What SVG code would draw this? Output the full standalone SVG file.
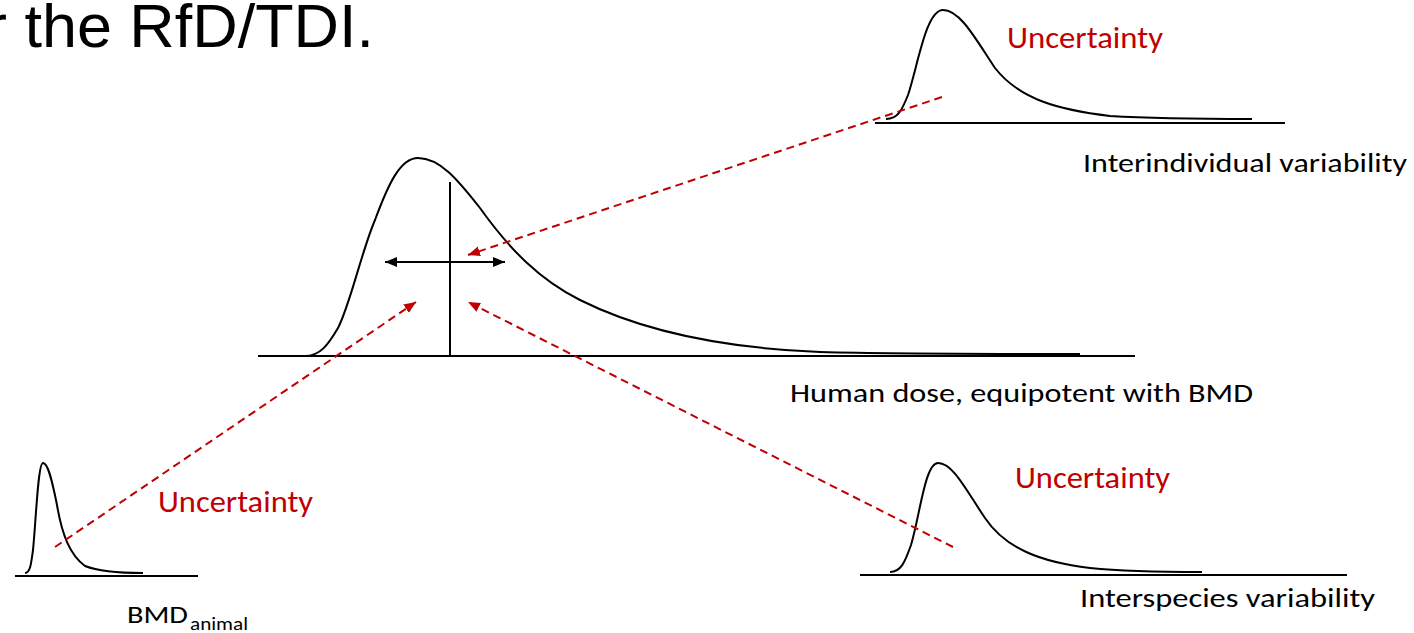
<svg xmlns="http://www.w3.org/2000/svg" width="1414" height="633" viewBox="0 0 1414 633">
  <style>
    .axis { stroke: #000; stroke-width: 2; fill: none; }
    .curve { stroke: #000; stroke-width: 2; fill: none; stroke-linejoin: round; }
    .dash { stroke: #c00000; stroke-width: 2; fill: none; stroke-dasharray: 8 5; }
    .lbl { font-family: Carlito, Lato, "Open Sans", sans-serif; fill: #000; }
    .unc { font-family: Carlito, Lato, "Open Sans", sans-serif; fill: #c00000; font-size: 30px; }
    .title { font-family: "Liberation Sans", Arial, sans-serif; font-size: 61px; fill: #000; }
  </style>
  <defs>
    <marker id="redhead" markerUnits="userSpaceOnUse" markerWidth="14" markerHeight="12" refX="12" refY="5" orient="auto">
      <path d="M0,0 L12,5 L0,10 Z" fill="#c00000"/>
    </marker>
    <marker id="blackhead" markerUnits="userSpaceOnUse" markerWidth="14" markerHeight="12" refX="12" refY="5" orient="auto-start-reverse">
      <path d="M0,0 L12,5 L0,10 Z" fill="#000"/>
    </marker>
  </defs>

  <text class="title" x="-14" y="47" textLength="388" lengthAdjust="spacingAndGlyphs">r the RfD/TDI.</text>

  <g id="main-distribution">
    <line class="axis" x1="258" y1="356" x2="1135" y2="356"/>
    <path class="curve" d="M 305 356 C 320 356, 328 345, 338 328 C 350 305, 362 250, 375 220 C 388 185, 400 158, 418 158 C 440 158, 458 180, 480 208 C 510 250, 540 280, 580 300 C 640 330, 720 348, 820 352 C 900 354, 1000 354, 1080 354"/>
    <line class="axis" x1="450" y1="182" x2="450" y2="356"/>
    <line class="axis" x1="385" y1="262" x2="505" y2="262" marker-start="url(#blackhead)" marker-end="url(#blackhead)"/>
    <text class="lbl" x="790" y="402" font-size="27" textLength="463" lengthAdjust="spacingAndGlyphs">Human dose, equipotent with BMD</text>
  </g>

  <g id="interindividual">
    <line class="axis" x1="875" y1="123" x2="1285" y2="123"/>
    <path class="curve" d="M 886 119 C 898 119, 902 110, 908 95 C 918 65, 926 10, 943 10 C 960 10, 975 38, 995 68 C 1020 100, 1060 110, 1110 116 C 1160 119, 1210 119, 1252 119"/>
    <text class="unc" x="1007" y="48" textLength="156" lengthAdjust="spacingAndGlyphs">Uncertainty</text>
    <text class="lbl" x="1083" y="172" font-size="27" textLength="324" lengthAdjust="spacingAndGlyphs">Interindividual variability</text>
  </g>

  <g id="interspecies">
    <line class="axis" x1="860" y1="575" x2="1347" y2="575"/>
    <path class="curve" d="M 890 572 C 901 572, 905 562, 911 545 C 920 515, 925 463, 938 463 C 953 463, 966 490, 985 518 C 1005 548, 1040 562, 1090 568 C 1130 572, 1170 572, 1202 572"/>
    <text class="unc" x="1015" y="488" textLength="155" lengthAdjust="spacingAndGlyphs">Uncertainty</text>
    <text class="lbl" x="1080" y="607" font-size="27" textLength="295" lengthAdjust="spacingAndGlyphs">Interspecies variability</text>
  </g>

  <g id="bmd-animal">
    <line class="axis" x1="15" y1="576" x2="198" y2="576"/>
    <path class="curve" d="M 25 573 C 30 573, 31 565, 33 550 C 36 520, 38 463, 43 463 C 48 463, 52 480, 57 505 C 62 535, 70 555, 85 566 C 100 572, 125 573, 143 573"/>
    <text class="unc" x="158" y="512" textLength="155" lengthAdjust="spacingAndGlyphs">Uncertainty</text>
    <text class="lbl" x="127" y="623" font-size="24" textLength="61" lengthAdjust="spacingAndGlyphs">BMD</text>
    <text class="lbl" x="190" y="630" font-size="18" textLength="58" lengthAdjust="spacingAndGlyphs">animal</text>
  </g>

  <g id="connectors">
    <line class="dash" x1="942" y1="97" x2="468" y2="255" marker-end="url(#redhead)"/>
    <line class="dash" x1="55" y1="547" x2="416" y2="302" marker-end="url(#redhead)"/>
    <line class="dash" x1="953" y1="547" x2="468" y2="302" marker-end="url(#redhead)"/>
  </g>
</svg>
